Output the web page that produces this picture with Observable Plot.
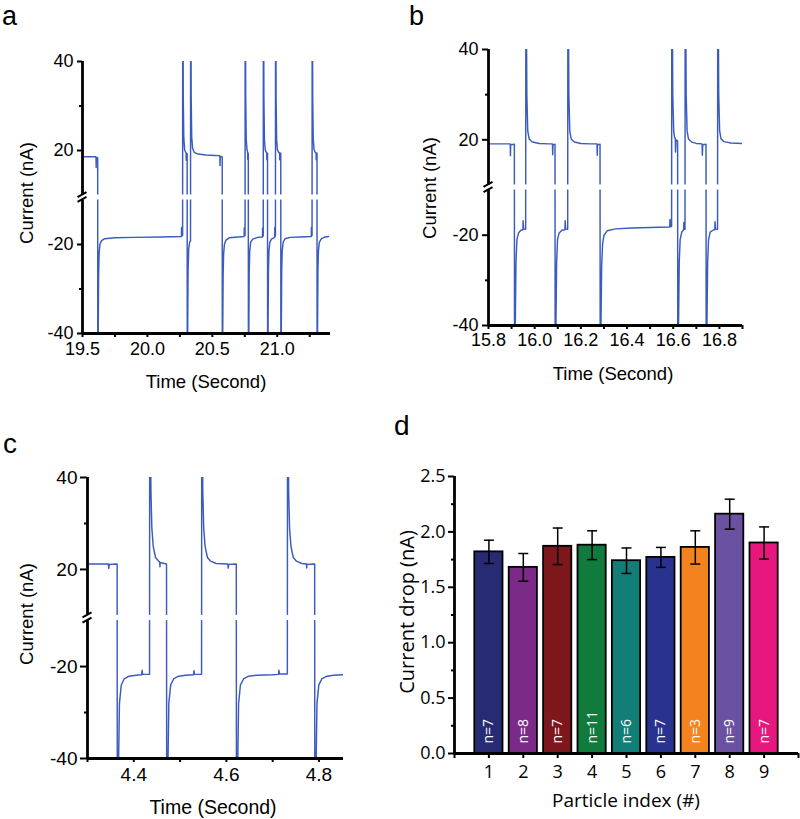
<!DOCTYPE html>
<html>
<head>
<meta charset="utf-8">
<script src="https://cdn.jsdelivr.net/npm/d3@7"></script>
<script src="https://cdn.jsdelivr.net/npm/@observablehq/plot@0.6"></script>
<style>
  body { margin: 0; background: #fff; }
  #fig { position: relative; width: 800px; height: 819px; overflow: hidden; background: #fff; }
  .panel { position: absolute; }
</style>
</head>
<body>
<div id="fig"></div>
<script>
// ---------------- DATA ----------------
// Panel a: current trace [time (s), current (nA)]
const traceA = [
  [19.500, 18.6],[19.560, 18.6],[19.604, 18.6],[19.605, 16.2],[19.606, 18.3],[19.616, 18.4],
  [19.617, 18.4],[19.618, -70],[19.621, -40],[19.624, -27],[19.628, -22],[19.634, -20],[19.645, -19.2],[19.670, -18.7],[19.750, -18.5],[19.900, -18.4],[20.100, -18.3],[20.262, -18.2],[20.263, -16.2],[20.265, -17.9],[20.270, -18.0],
  [20.271, -18.0],[20.272, 70],[20.276, 32],[20.280, 23],[20.286, 20.3],[20.294, 19.6],[20.298, 19.5],[20.299, 17.8],[20.300, 19.3],[20.305, 19.3],
  [20.306, 19.3],[20.307, -70],[20.310, -40],[20.313, -26],[20.318, -21],[20.325, -19.5],[20.331, -19.2],
  [20.332, -19.2],[20.333, 70],[20.337, 32],[20.341, 23],[20.348, 20.5],[20.360, 19.6],[20.390, 19.2],[20.450, 19.0],[20.520, 18.9],[20.558, 18.8],[20.559, 16.6],[20.561, 18.6],[20.575, 18.6],
  [20.576, 18.6],[20.577, -70],[20.580, -40],[20.583, -27],[20.587, -22],[20.593, -20],[20.605, -19],[20.630, -18.5],[20.700, -18.3],[20.745, -18.2],[20.746, -16.3],[20.748, -17.9],[20.751, -18.0],
  [20.752, -18.0],[20.753, 70],[20.757, 32],[20.761, 22.5],[20.767, 20.2],[20.772, 19.6],[20.773, 18.0],[20.774, 19.4],[20.776, 19.4],
  [20.777, 19.4],[20.778, -70],[20.781, -40],[20.784, -26],[20.788, -21.5],[20.795, -19.5],[20.810, -18.8],[20.850, -18.4],[20.886, -18.3],[20.887, -16.3],[20.889, -18.0],[20.891, -18.1],
  [20.892, -18.1],[20.893, 70],[20.897, 32],[20.901, 22.5],[20.907, 20.2],[20.915, 19.6],[20.919, 19.5],[20.920, 17.9],[20.921, 19.4],[20.924, 19.4],
  [20.925, 19.4],[20.926, -70],[20.929, -40],[20.932, -26],[20.936, -21.5],[20.943, -19.5],[20.955, -18.8],[20.980, -18.4],[20.981, -16.2],[20.983, -18.0],[20.985, -18.1],
  [20.986, -18.1],[20.987, 70],[20.991, 32],[20.995, 22.5],[21.001, 20.2],[21.010, 19.6],[21.018, 19.5],[21.019, 17.9],[21.020, 19.4],[21.026, 19.4],
  [21.027, 19.4],[21.028, -70],[21.031, -40],[21.034, -26],[21.038, -21.5],[21.045, -19.5],[21.060, -18.7],[21.100, -18.4],[21.180, -18.3],[21.262, -18.2],[21.263, -16.1],[21.265, -17.9],[21.267, -18.0],
  [21.268, -18.0],[21.269, 70],[21.273, 32],[21.277, 22.5],[21.283, 20.3],[21.292, 19.6],[21.299, 19.5],[21.300, 17.9],[21.301, 19.4],[21.305, 19.4],
  [21.306, 19.4],[21.307, -70],[21.310, -40],[21.313, -26],[21.317, -21.5],[21.324, -19.5],[21.340, -18.7],[21.370, -18.3],[21.395, -18.2]
];
const xDomainA = [19.5, 21.41];
const xTicksA = [19.5, 20.0, 20.5, 21.0];
const xMinorA = [19.75, 20.25, 20.75, 21.25];

// Panel b
const traceB = [
  [15.800, 19.1],[15.850, 19.1],[15.894, 19.1],[15.895, 16.5],[15.896, 18.9],[15.911, 19.0],
  [15.912, 19.0],[15.913, -70],[15.916, -40],[15.919, -26],[15.923, -21],[15.930, -19.5],[15.940, -18.9],[15.949, -18.8],[15.950, -16.8],[15.952, -18.6],[15.960, -18.7],
  [15.961, -18.7],[15.962, 70],[15.966, 30],[15.970, 22],[15.976, 20.2],[15.990, 19.5],[16.020, 19.2],[16.060, 19.1],[16.077, 19.1],[16.078, 16.7],[16.079, 18.9],[16.087, 19.0],
  [16.088, 19.0],[16.089, -70],[16.092, -40],[16.095, -26],[16.099, -21],[16.106, -19.5],[16.118, -18.9],[16.131, -18.8],[16.132, -16.8],[16.134, -18.6],[16.142, -18.7],
  [16.143, -18.7],[16.144, 70],[16.148, 30],[16.152, 22],[16.158, 20.2],[16.172, 19.5],[16.200, 19.2],[16.240, 19.1],[16.270, 19.1],[16.271, 16.6],[16.272, 18.9],[16.282, 19.0],
  [16.283, 19.0],[16.284, -70],[16.287, -40],[16.290, -27],[16.294, -22],[16.300, -20],[16.315, -19],[16.350, -18.6],[16.420, -18.4],[16.500, -18.3],[16.585, -18.2],[16.586, -16.5],[16.588, -18.1],[16.592, -18.1],
  [16.593, -18.1],[16.594, 70],[16.598, 30],[16.602, 22],[16.606, 20.5],[16.609, 20.3],[16.610, 17.3],[16.612, 20.0],[16.618, 19.8],
  [16.619, 19.8],[16.620, -70],[16.623, -40],[16.626, -26],[16.630, -21],[16.637, -19.3],[16.645, -18.8],[16.646, -17.2],[16.648, -18.7],[16.650, -18.7],
  [16.651, -18.7],[16.652, 70],[16.656, 30],[16.660, 22],[16.666, 20.2],[16.680, 19.5],[16.700, 19.2],[16.725, 19.1],[16.726, 16.6],[16.728, 18.9],[16.741, 19.0],
  [16.742, 19.0],[16.743, -70],[16.746, -40],[16.749, -26],[16.753, -21],[16.760, -19.3],[16.775, -18.8],[16.780, -18.8],[16.781, -17.0],[16.783, -18.6],[16.791, -18.7],
  [16.792, -18.7],[16.793, 70],[16.797, 30],[16.801, 22],[16.807, 20.2],[16.820, 19.6],[16.850, 19.3],[16.900, 19.2]
];
const xDomainB = [15.8, 16.9];
const xTicksB = [15.8, 16.0, 16.2, 16.4, 16.6, 16.8];
const xMinorB = [15.9, 16.1, 16.3, 16.5, 16.7, 16.9];

// Panel c
const traceC = [
  [4.300, 21.2],[4.330, 21.2],[4.345, 21.2],[4.346, 20.2],[4.347, 21.1],[4.363, 21.2],
  [4.364, 21.2],[4.3645, -75],[4.367, -42],[4.369, -28],[4.373, -24],[4.379, -22.7],[4.390, -22.1],[4.405, -21.9],[4.417, -21.8],[4.418, -20.8],[4.419, -21.7],[4.433, -21.7],
  [4.434, -21.7],[4.4345, 75],[4.437, 37],[4.439, 29],[4.442, 25],[4.447, 22.6],[4.454, 21.8],[4.456, 21.6],[4.4565, 20.6],[4.457, 21.5],[4.466, 21.3],[4.470, 21.2],
  [4.4707, 21.2],[4.4712, -75],[4.4737, -42],[4.4757, -28],[4.4797, -24],[4.486, -22.7],[4.497, -22.1],[4.512, -21.9],[4.529, -21.8],[4.530, -20.9],[4.531, -21.7],[4.546, -21.7],
  [4.5464, -21.7],[4.5469, 75],[4.549, 37],[4.551, 29],[4.554, 25],[4.559, 22.6],[4.566, 21.8],[4.578, 21.3],[4.603, 21.2],[4.604, 20.3],[4.605, 21.1],[4.621, 21.2],
  [4.6214, 21.2],[4.6219, -75],[4.6244, -42],[4.6264, -28],[4.6304, -24],[4.637, -22.7],[4.648, -22.1],[4.665, -21.9],[4.700, -21.8],[4.7125, -21.7],[4.7135, -20.8],[4.7145, -21.6],[4.731, -21.6],
  [4.7317, -21.6],[4.7322, 75],[4.7345, 37],[4.7365, 29],[4.7395, 25],[4.7445, 22.6],[4.7515, 21.8],[4.763, 21.3],[4.773, 21.2],[4.7735, 20.3],[4.774, 21.1],[4.790, 21.2],
  [4.7907, 21.2],[4.7912, -75],[4.7937, -42],[4.7957, -28],[4.7997, -24],[4.806, -22.7],[4.817, -22.1],[4.832, -21.9],[4.853, -21.8]
];
const xDomainC = [4.3, 4.853];
const xTicksC = [4.4, 4.6, 4.8];
const xMinorC = [4.3, 4.5, 4.7];

// Broken y axis shared by the traces: shown ranges [-40,-10] and [10,40]
const yTicks = [-40, -20, 20, 40];
const yMinor = [-30, 30];
const yShown = [-40, -10, 10, 40];

// Panel d
const particleIndex = [1, 2, 3, 4, 5, 6, 7, 8, 9];
const dropMean = [1.82, 1.68, 1.87, 1.88, 1.74, 1.77, 1.86, 2.16, 1.90];
const dropErr = [0.105, 0.125, 0.165, 0.13, 0.115, 0.09, 0.15, 0.135, 0.145];
const counts = ["n=7", "n=8", "n=7", "n=11", "n=6", "n=7", "n=3", "n=9", "n=7"];
const barColors = ["#272b74", "#7b2a88", "#7d171b", "#117a3d", "#127e78", "#29338f", "#f2831f", "#6a51a2", "#e8177d"];
const yTicksD = [0, 0.5, 1.0, 1.5, 2.0, 2.5];
const yMinorD = [0.25, 0.75, 1.25, 1.75, 2.25];
const xTicksD = [0, 1, 2, 3, 4, 5, 6, 7, 8, 9, 10];

// ---------------- DRAWING ----------------
const fig = document.getElementById("fig");
const TRACE = "#3b5bbf";
const ARIAL = "'Liberation Sans', Arial, sans-serif";
const OPEN = "'Open Sans', sans-serif";

function place(node, left, top) {
  const div = document.createElement("div");
  div.className = "panel";
  div.style.left = left + "px";
  div.style.top = top + "px";
  div.appendChild(node);
  fig.appendChild(div);
}

// broken-axis coordinate: the hidden band (-10, 10) collapses to a small gap of 2*G units
const G = 0.56;
const lo = yShown[1], hi = yShown[2];
const brk = v => (v >= 0 ? v - hi + G : v - lo - G);
const unbrk = d => (d >= 0 ? d + hi - G : d + lo + G);
const yDomainBroken = [brk(yShown[0]), brk(yShown[3])];

function breakMark(xStart) {
  return (index, scales, values, dimensions) => {
    const g = d3.create("svg:g");
    const x0 = scales.x(xStart);
    const yA = scales.y(G), yB = scales.y(-G);
    g.append("rect")
      .attr("x", x0 + 1.5).attr("y", yA)
      .attr("width", dimensions.width - dimensions.marginRight - x0 + 2)
      .attr("height", yB - yA).attr("fill", "white");
    for (const yp of [yA, yB]) {
      g.append("line")
        .attr("x1", x0 - 4.5).attr("y1", yp + 2.5)
        .attr("x2", x0 + 4.5).attr("y2", yp - 2.5)
        .attr("stroke", "black").attr("stroke-width", 2);
    }
    return g.node();
  };
}

function tracePanel(o) {
  return Plot.plot({
    width: o.width, height: o.height,
    marginLeft: o.mL, marginRight: o.mR, marginTop: o.mT, marginBottom: o.mB,
    style: { fontFamily: ARIAL, fontSize: o.xFont + "px", color: "black", background: "transparent", overflow: "visible" },
    x: { domain: o.xDomain },
    y: { domain: yDomainBroken },
    marks: [
      Plot.line(o.data, { x: d => d[0], y: d => brk(d[1]), stroke: TRACE, strokeWidth: 1.45, clip: true }),
      breakMark(o.xDomain[0]),
      Plot.ruleX([o.xDomain[0]], { y1: G, y2: brk(yShown[3]), strokeWidth: 2.8 }),
      Plot.ruleX([o.xDomain[0]], { y1: brk(yShown[0]), y2: -G, strokeWidth: 2.8 }),
      Plot.ruleY([brk(yShown[0])], { strokeWidth: 2.8 }),
      Plot.axisY({ ticks: yTicks.map(brk), tickSize: o.ySize, tickPadding: o.yPad, tickFormat: d => String(Math.round(unbrk(d))), strokeWidth: 2, fontSize: o.yFont, fontFamily: ARIAL, label: null }),
      Plot.axisY({ ticks: yMinor.map(brk), tickSize: 3, tickFormat: () => "", strokeWidth: 2, label: null }),
      Plot.axisX({ ticks: o.xTicks, tickSize: 4, tickPadding: o.xPad, tickFormat: d3.format(".1f"), strokeWidth: 2, fontSize: o.xFont, fontFamily: ARIAL, label: null }),
      Plot.axisX({ ticks: o.xMinor, tickSize: 4, tickFormat: () => "", strokeWidth: 2, label: null })
    ]
  });
}

place(tracePanel({
  data: traceA, xDomain: xDomainA, xTicks: xTicksA, xMinor: xMinorA,
  width: 400, height: 400, mL: 82, mR: 70, mT: 61, mB: 67,
  ySize: 5, yPad: 4, yFont: 18, xPad: 5, xFont: 18
}), 0, 0);

place(tracePanel({
  data: traceB, xDomain: xDomainB, xTicks: xTicksB, xMinor: xMinorB,
  width: 400, height: 400, mL: 88, mR: 58, mT: 49, mB: 75,
  ySize: 6, yPad: 4, yFont: 18, xPad: 4, xFont: 18
}), 400, 0);

place(tracePanel({
  data: traceC, xDomain: xDomainC, xTicks: xTicksC, xMinor: xMinorC,
  width: 400, height: 419, mL: 87, mR: 57, mT: 77, mB: 61,
  ySize: 7, yPad: 3, yFont: 19, xPad: 5, xFont: 19
}), 0, 400);

// Panel d
const dData = particleIndex.map((idx, i) => ({ idx, mean: dropMean[i], err: dropErr[i], n: counts[i], color: barColors[i] }));
const capSymbol = { draw(ctx, size) { const r = Math.sqrt(size / Math.PI); ctx.moveTo(-r, 0); ctx.lineTo(r, 0); } };

place(Plot.plot({
  width: 400, height: 419,
  marginLeft: 54, marginRight: 2, marginTop: 76, marginBottom: 66,
  style: { fontFamily: OPEN, fontSize: "18px", color: "black", background: "transparent", overflow: "visible" },
  x: { domain: [0, 10] },
  y: { domain: [0, 2.5] },
  color: { type: "identity" },
  marks: [
    Plot.rect(dData, { x1: d => d.idx - 0.41, x2: d => d.idx + 0.41, y1: 0, y2: "mean", fill: "color", stroke: "black", strokeWidth: 1.8 }),
    Plot.ruleX(dData, { x: "idx", y1: d => d.mean - d.err, y2: d => d.mean + d.err, stroke: "black", strokeWidth: 1.5 }),
    Plot.dot(dData, { x: "idx", y: d => d.mean + d.err, symbol: capSymbol, r: 5, stroke: "black", strokeWidth: 1.5 }),
    Plot.dot(dData, { x: "idx", y: d => d.mean - d.err, symbol: capSymbol, r: 5, stroke: "black", strokeWidth: 1.5 }),
    Plot.text(dData, { x: "idx", y: 0, text: "n", rotate: -90, textAnchor: "start", dy: -10, fill: "white", fontSize: 14, fontFamily: OPEN }),
    Plot.ruleX([0], { strokeWidth: 2.8 }),
    Plot.ruleY([0], { strokeWidth: 2.8 }),
    Plot.axisY({ ticks: yTicksD, tickSize: 6, tickPadding: 3, tickFormat: d3.format(".1f"), strokeWidth: 2, fontSize: 18, fontFamily: OPEN, label: null }),
    Plot.axisY({ ticks: yMinorD, tickSize: 3, tickFormat: () => "", strokeWidth: 2, label: null }),
    Plot.axisX({ ticks: xTicksD, tickSize: 5, tickPadding: 7, tickFormat: d => (d >= 1 && d <= 9 ? String(d) : ""), strokeWidth: 2, fontSize: 18, fontFamily: OPEN, label: null })
  ]
}), 400, 400);

// Titles & panel letters
const overlay = d3.select(fig).append("svg")
  .attr("width", 800).attr("height", 819)
  .style("position", "absolute").style("left", "0px").style("top", "0px")
  .style("pointer-events", "none");

function label(txt, x, y, { size = 18.5, family = ARIAL, rotate = 0, anchor = "middle", baseline = "central" } = {}) {
  overlay.append("text")
    .attr("transform", `translate(${x},${y}) rotate(${rotate})`)
    .attr("text-anchor", anchor)
    .attr("dominant-baseline", baseline)
    .attr("font-family", family)
    .attr("font-size", size)
    .attr("fill", "black")
    .text(txt);
}
label("a", 2, 25, { size: 27, anchor: "start", baseline: "alphabetic" });
label("b", 409, 25, { size: 27, anchor: "start", baseline: "alphabetic" });
label("c", 3, 453, { size: 28, anchor: "start", baseline: "alphabetic" });
label("d", 394, 435, { size: 28, anchor: "start", baseline: "alphabetic" });

label("Current (nA)", 26, 193, { rotate: -90 });
label("Current (nA)", 429, 188, { rotate: -90 });
label("Current (nA)", 26, 614, { rotate: -90 });
label("Current drop (nA)", 406, 612, { rotate: -90, family: OPEN, size: 20 });

label("Time (Second)", 206, 381);
label("Time (Second)", 613, 373);
label("Time (Second)", 213, 807, { size: 19.5 });
label("Particle index (#)", 626, 800, { family: OPEN, size: 19 });
</script>
</body>
</html>
